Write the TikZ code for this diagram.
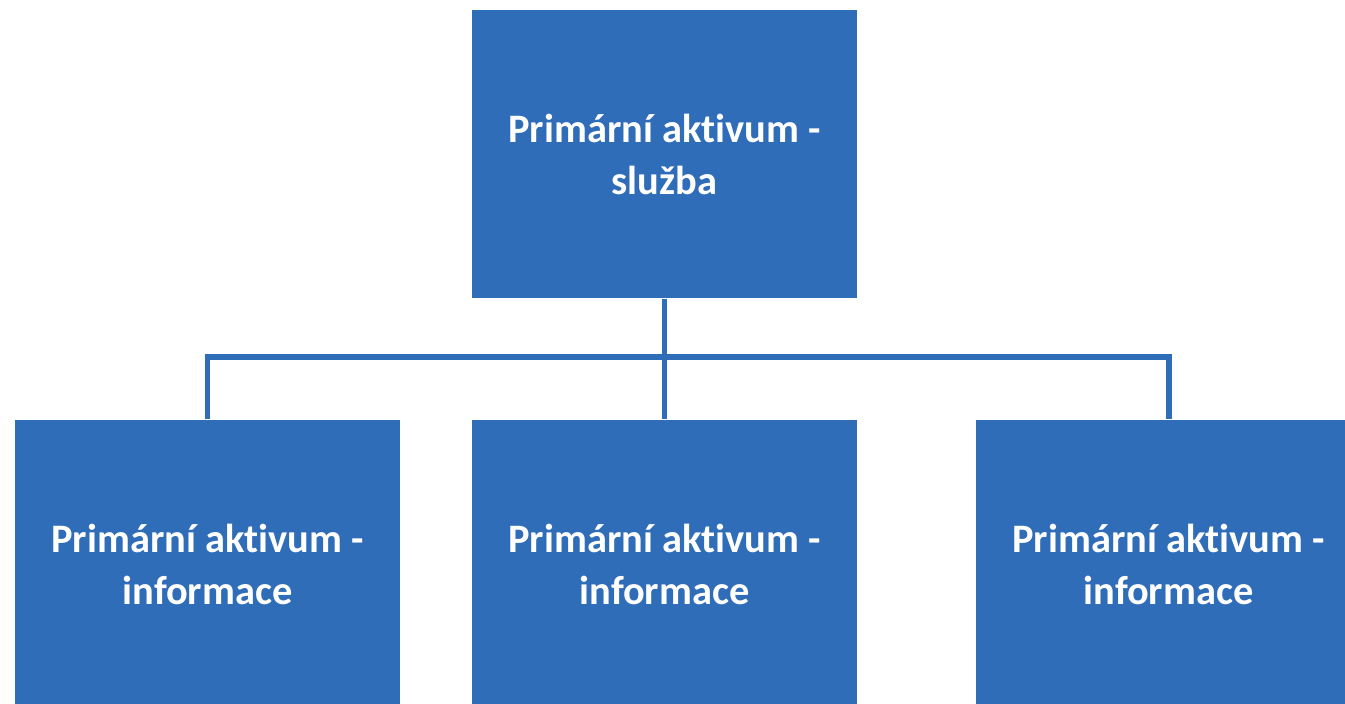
\documentclass[tikz,border=0pt]{standalone}
\usepackage{fontspec}
\setmainfont[Ligatures=NoCommon]{Carlito}
\definecolor{aktivum}{RGB}{47,109,185}
\tikzset{
  box/.style={fill=aktivum, draw=none, inner sep=0pt, minimum width=3.85cm,
    minimum height=2.88cm, align=center, text=white,
    font=\fontsize{11.5}{14.8}\selectfont\bfseries},
  link/.style={draw=aktivum, line width=1.7pt}
}
\begin{document}
\begin{tikzpicture}[x=0.01cm, y=-0.01cm]
  \useasboundingbox (0,0) rectangle (1345,704);
  \node[box] (sluzba) at (664.5,154) {Primární aktivum -\\služba};
  \node[box] (info1) at (207.5,564) {Primární aktivum -\\informace};
  \node[box] (info2) at (664.5,564) {Primární aktivum -\\informace};
  \node[box] (info3) at (1168.5,564) {Primární aktivum -\\informace};
  \coordinate (rozdel) at (664.5,357);
  \draw[link] (sluzba.south) -- (rozdel);
  \draw[link] (info1.north) |- (rozdel) -| (info3.north);
  \draw[link] (rozdel) -- (info2.north);
\end{tikzpicture}
\end{document}
